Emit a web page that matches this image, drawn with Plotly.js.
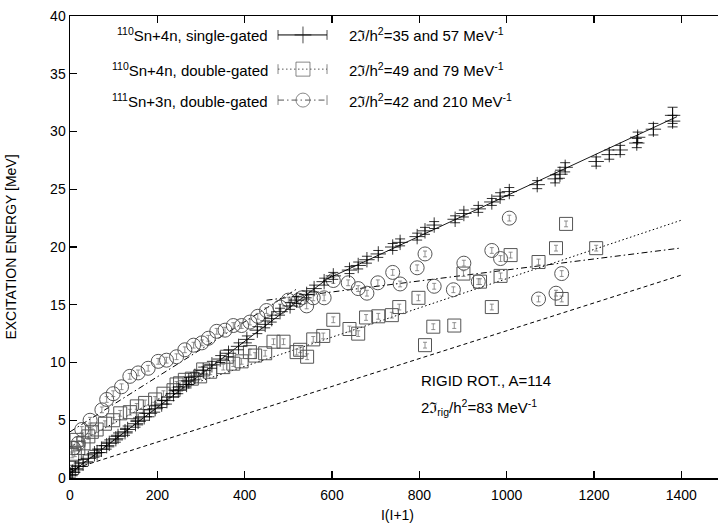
<!DOCTYPE html>
<html>
<head>
<meta charset="utf-8">
<script src="https://cdn.plot.ly/plotly-3.0.1.min.js"></script>
<style>
  html, body { margin: 0; padding: 0; overflow: hidden; background: #fff; }
  #chart { width: 730px; height: 525px; }
</style>
</head>
<body>
<div id="chart"></div>
<script>
// 110Sn+4n, single-gated yrast levels: I(I+1) and excitation energy [MeV]
const singleX = [2, 6, 12, 20, 30, 42, 56, 62, 72, 84, 90, 105, 110, 126, 132, 150, 156, 170, 182, 195,
  210, 222, 237, 248, 267, 272, 286, 305, 325, 344, 363, 386, 405, 429, 447, 462, 481, 504, 519, 542,
  559, 582, 603, 640, 660, 680, 706, 739, 756, 795, 813, 834, 882, 902, 935, 966, 985, 1006, 1070, 1111,
  1122, 1134, 1205, 1235, 1260, 1298, 1300, 1336, 1380, 1380];
const singleE = [0.3, 0.5, 0.8, 1.0, 1.3, 1.7, 2.1, 2.2, 2.5, 2.8, 3.0, 3.4, 3.6, 4.0, 4.2, 4.7, 4.9, 5.3, 5.6, 6.0,
  6.4, 6.7, 7.3, 7.6, 8.1, 8.4, 8.8, 9.3, 9.8, 10.3, 10.8, 11.4, 12.0, 12.8, 13.3, 13.8, 14.4, 14.9, 15.4, 15.9,
  16.4, 17.0, 17.5, 18.0, 18.4, 18.9, 19.4, 20.0, 20.4, 20.9, 21.4, 21.9, 22.4, 22.9, 23.3, 23.9, 24.4, 24.8, 25.4, 25.9,
  26.3, 26.9, 27.4, 28.0, 28.4, 29.0, 29.5, 30.2, 30.9, 31.4];
const singleErr = [0.3, 0.3, 0.3, 0.3, 0.3, 0.3, 0.3, 0.3, 0.3, 0.3, 0.3, 0.3, 0.3, 0.3, 0.3, 0.3, 0.3, 0.3, 0.3, 0.3,
  0.3, 0.3, 0.3, 0.3, 0.3, 0.3, 0.3, 0.3, 0.3, 0.3, 0.3, 0.3, 0.3, 0.3, 0.3, 0.3, 0.3, 0.3, 0.3, 0.3,
  0.3, 0.3, 0.3, 0.3, 0.3, 0.3, 0.3, 0.3, 0.3, 0.3, 0.3, 0.3, 0.3, 0.3, 0.3, 0.3, 0.3, 0.35, 0.35, 0.35,
  0.35, 0.4, 0.4, 0.4, 0.4, 0.4, 0.45, 0.5, 0.5, 0.7];

// 110Sn+4n, double-gated
const doubleX = [5, 11, 15, 19, 31, 42, 50, 61, 80, 99, 115, 137, 153, 172, 195, 214, 237, 244, 252, 263,
  279, 298, 305, 321, 351, 359, 374, 393, 412, 424, 447, 466, 489, 519, 527, 543, 557, 580, 603, 640,
  660, 678, 706, 737, 754, 798, 813, 832, 880, 901, 939, 966, 986, 1009, 1073, 1113, 1126, 1136, 1205];
const doubleE = [2.0, 2.1, 3.3, 2.6, 3.0, 3.6, 4.0, 4.2, 4.7, 5.0, 5.6, 5.7, 6.2, 6.5, 6.8, 7.3, 7.6, 8.1, 8.2, 8.5,
  8.6, 8.8, 9.4, 9.2, 9.6, 10.5, 9.9, 10.1, 10.9, 10.6, 10.8, 11.8, 11.8, 10.9, 11.1, 10.5, 12.0, 12.3, 13.7, 12.9,
  12.5, 13.9, 14.0, 14.1, 14.8, 15.6, 11.5, 13.1, 13.2, 17.7, 17.0, 14.8, 17.5, 19.3, 18.7, 19.9, 15.5, 22.0, 19.9];
const doubleErr = doubleX.map(() => 0.25);

// 111Sn+3n, double-gated
const oddX = [8, 19, 27, 46, 73, 84, 99, 118, 137, 156, 179, 202, 221, 244, 263, 283, 302, 317, 336, 355,
  374, 393, 412, 430, 450, 481, 500, 523, 531, 542, 557, 582, 603, 637, 660, 680, 705, 739, 756, 795,
  813, 834, 878, 902, 935, 966, 986, 1006, 1073, 1113, 1126];
const oddE = [2.6, 3.0, 4.2, 5.0, 5.9, 6.8, 7.3, 7.9, 8.8, 9.1, 9.5, 10.1, 10.2, 10.5, 11.1, 11.5, 11.7, 12.1, 12.7, 12.8,
  13.2, 13.2, 13.5, 14.0, 14.5, 14.8, 15.4, 15.4, 15.6, 14.9, 15.6, 15.6, 17.1, 16.9, 16.4, 16.0, 16.9, 17.8, 16.8, 18.2,
  19.4, 16.6, 16.3, 18.6, 17.0, 19.7, 19.0, 22.5, 15.5, 16.0, 17.7];
const oddErr = oddX.map(() => 0.25);

// Rotational reference lines E = E0 + I(I+1) / (2J/h^2)
const singleMoI = [35, 57];
const singleE0 = [0.4, 6.9];
const singleSpan = [[0, 600], [580, 1390]];
const doubleMoI = [49, 79];
const doubleE0 = [2.7, 4.6];
const doubleSpan = [[0, 260], [240, 1400]];
const oddMoI = [42, 210];
const oddE0 = [4.0, 13.25];
const oddSpan = [[0, 520], [450, 1400]];
const rigidMoI = 83;
const rigidE0 = 0.7;
const rigidSpan = [0, 1400];

const ink = '#000';
const grey = '#555';
const font = 'Liberation Sans, Arial, Helvetica, sans-serif';

const dashSolid = 'solid';
const dashDotted = '1.5px,2.5px';
const dashDashDot = '6px,3px,1.5px,3px';
const dashDashed = '4px,3px';

function refLine(moi, e0, span, dash, width) {
  return {
    x: span,
    y: span.map(v => e0 + v / moi),
    mode: 'lines',
    line: { color: ink, width: width, dash: dash },
    hoverinfo: 'skip'
  };
}

const traces = [];
singleMoI.forEach((m, i) => traces.push(refLine(m, singleE0[i], singleSpan[i], dashSolid, 0.9)));
doubleMoI.forEach((m, i) => traces.push(refLine(m, doubleE0[i], doubleSpan[i], dashDotted, 1)));
oddMoI.forEach((m, i) => traces.push(refLine(m, oddE0[i], oddSpan[i], dashDashDot, 1)));
traces.push(refLine(rigidMoI, rigidE0, rigidSpan, dashDashed, 1));

traces.push({
  x: doubleX, y: doubleE, mode: 'markers',
  marker: { symbol: 'square-open', size: 13, color: grey, line: { width: 1, color: grey } },
  error_y: { type: 'data', array: doubleErr, thickness: 0.8, width: 2, color: '#777' }
});
traces.push({
  x: oddX, y: oddE, mode: 'markers',
  marker: { symbol: 'circle-open', size: 14, color: grey, line: { width: 1, color: grey } },
  error_y: { type: 'data', array: oddErr, thickness: 0.8, width: 2, color: '#777' }
});
traces.push({
  x: singleX, y: singleE, mode: 'markers',
  marker: { symbol: 'cross-thin', size: 11, color: ink, line: { width: 0.8, color: ink } },
  error_y: { type: 'data', array: singleErr, thickness: 0.8, width: 5, color: ink }
});

// Key samples, drawn on a hidden unit overlay axis pair
const keyX = [0.3176, 0.3557, 0.3924];
const keyRows = [0.959, 0.885, 0.818];
const keyDash = [dashSolid, dashDotted, dashDashDot];
const keySym = ['cross-thin', 'square-open', 'circle-open'];
const keySize = [12, 14, 14];
const keyCol = [ink, grey, grey];
keyRows.forEach((r, i) => {
  traces.push({
    x: keyX, y: [r, r, r], xaxis: 'x2', yaxis: 'y2', mode: 'lines+markers',
    line: { color: keyCol[i], width: 1, dash: keyDash[i] },
    marker: { symbol: ['line-ns', keySym[i], 'line-ns'], size: [7, keySize[i], 7],
              color: keyCol[i], line: { width: 1, color: keyCol[i] } },
    hoverinfo: 'skip'
  });
});

const keyText = ['<sup>110</sup>Sn+4n, single-gated', '<sup>110</sup>Sn+4n, double-gated', '<sup>111</sup>Sn+3n, double-gated'];
const fitText = ['2ℑ/h<sup>2</sup>=35 and 57 MeV<sup>-1</sup>', '2ℑ/h<sup>2</sup>=49 and 79 MeV<sup>-1</sup>', '2ℑ/h<sup>2</sup>=42 and 210 MeV<sup>-1</sup>'];

const textFont = { family: font, size: 15, color: ink };
const annotations = [];
keyRows.forEach((r, i) => {
  annotations.push({ xref: 'paper', yref: 'paper', x: 0.305, y: r, xanchor: 'right', yanchor: 'middle',
    text: keyText[i], showarrow: false, font: textFont });
  annotations.push({ xref: 'paper', yref: 'paper', x: 0.423, y: r, xanchor: 'left', yanchor: 'middle',
    text: fitText[i], showarrow: false, font: textFont });
});
annotations.push({ xref: 'paper', yref: 'paper', x: 0.533, y: 0.21, xanchor: 'left', yanchor: 'middle',
  text: 'RIGID ROT., A=114', showarrow: false, font: textFont });
annotations.push({ xref: 'paper', yref: 'paper', x: 0.533, y: 0.152, xanchor: 'left', yanchor: 'middle',
  text: '2ℑ<sub>rig</sub>/h<sup>2</sup>=83 MeV<sup>-1</sup>', showarrow: false, font: textFont });

const axisCommon = {
  showline: true, linecolor: ink, linewidth: 1.5, mirror: 'ticks',
  ticks: 'inside', ticklen: 7, tickwidth: 1.2, tickcolor: ink,
  showgrid: false, zeroline: false,
  tickfont: { family: font, size: 14, color: ink }
};

const layout = {
  width: 730, height: 525,
  margin: { l: 70, r: 5, t: 16, b: 47 },
  paper_bgcolor: '#fff', plot_bgcolor: '#fff',
  showlegend: false, hovermode: false,
  xaxis: Object.assign({}, axisCommon, {
    range: [0, 1500], tick0: 0, dtick: 200, ticklabelstandoff: 4,
    title: { text: 'I(I+1)', font: { family: font, size: 14, color: ink }, standoff: 8 }
  }),
  yaxis: Object.assign({}, axisCommon, {
    range: [0, 40], tick0: 0, dtick: 5,
    title: { text: 'EXCITATION ENERGY [MeV]', font: { family: font, size: 14, color: ink }, standoff: 30 }
  }),
  xaxis2: { overlaying: 'x', anchor: 'y2', range: [0, 1], visible: false },
  yaxis2: { overlaying: 'y', anchor: 'x2', range: [0, 1], visible: false },
  annotations: annotations
};

Plotly.newPlot('chart', traces, layout, { staticPlot: true, displayModeBar: false });
</script>
</body>
</html>
